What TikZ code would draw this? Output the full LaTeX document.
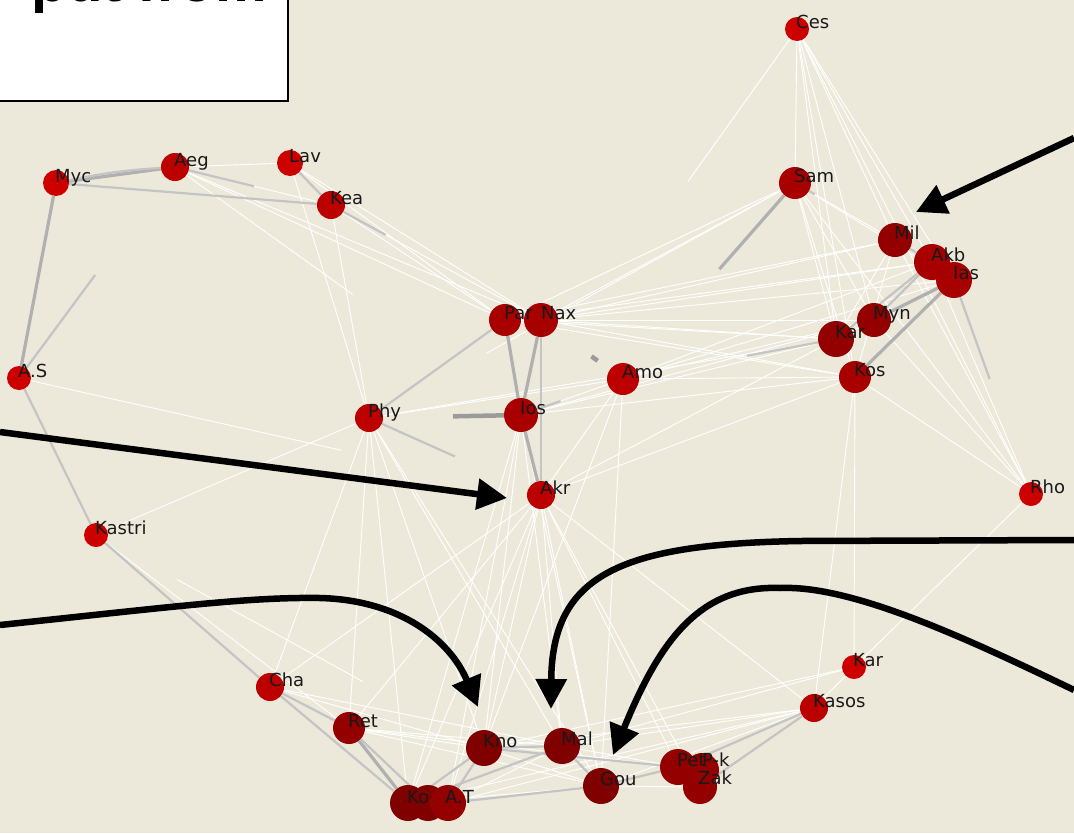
\documentclass[tikz,border=0pt]{standalone}
\usepackage{fontspec}
\setmainfont{DejaVu Sans}
\newfontfamily\titlefont{Liberation Sans}
\usetikzlibrary{arrows.meta}
\pgfdeclarelayer{edgelayer}
\pgfsetlayers{edgelayer,main}
\definecolor{bgc}{RGB}{236,233,219}
\definecolor{rA}{RGB}{205,0,0}
\definecolor{rB}{RGB}{188,0,0}
\definecolor{rC}{RGB}{168,0,0}
\definecolor{rD}{RGB}{148,0,0}
\definecolor{rE}{RGB}{128,0,0}
\definecolor{gA}{RGB}{196,196,196}
\definecolor{gB}{RGB}{176,176,176}
\definecolor{gC}{RGB}{155,155,155}
\newcommand\isle[5]{\node[isl,minimum size=#3pt,fill=#4] (#1) at (#2) {};\node[lab] (#1-l) at (#2) {#5};}
\begin{document}
\begin{tikzpicture}[x=1pt,y=-1pt,
  isl/.style={circle,draw=none,inner sep=0pt},
  lab/.style={anchor=base west,inner sep=0pt,xshift=-1pt,yshift=1pt,font=\fontsize{18}{18}\selectfont,text=black!90},
  we/.style={draw=white,line width=0.9pt},
  ge/.style={draw=gA,line width=2.2pt},
  gt/.style={draw=gB,line width=3.2pt},
  gd/.style={draw=gC,line width=4.5pt},
  bigarrow/.style={draw=black,line width=6.5pt,-{Triangle[length=30pt,width=30pt]}}]
\useasboundingbox (0,0) rectangle (1074,833);
\clip (0,0) rectangle (1074,833);
% islands
\isle{ces}{797,29}{24}{rA}{Ces}
\isle{sam}{795,183}{32}{rC}{Sam}
\isle{mil}{895,240}{34}{rD}{Mil}
\isle{akb}{932,262}{36}{rC}{Akb}
\isle{ias}{954,280}{36}{rC}{Ias}
\isle{myn}{874,320}{34}{rD}{Myn}
\isle{kare}{836,339}{36}{rD}{Kar}
\isle{kos}{855,377}{32}{rC}{Kos}
\isle{rho}{1031,494}{24}{rA}{Rho}
\isle{myc}{56,183}{26}{rA}{Myc}
\isle{aeg}{175,167}{28}{rB}{Aeg}
\isle{lav}{290,163}{26}{rA}{Lav}
\isle{kea}{331,205}{28}{rB}{Kea}
\isle{as}{19,378}{24}{rA}{A.S}
\isle{par}{505,320}{32}{rC}{}
\isle{nax}{541,320}{34}{rC}{}
\node[lab] (par-l2) at (505,320) {Par};
\node[lab] (nax-l2) at (542,320) {Nax};
\isle{amo}{623,379}{32}{rB}{Amo}
\isle{phy}{369,418}{28}{rB}{Phy}
\isle{ios}{521,415}{34}{rC}{Ios}
\isle{akr}{541,495}{28}{rB}{Akr}
\isle{kastri}{96,535}{24}{rA}{Kastri}
\isle{cha}{270,687}{28}{rB}{Cha}
\isle{ret}{349,728}{32}{rD}{Ret}
\isle{kno}{484,748}{36}{rE}{Kno}
\isle{mal}{562,746}{36}{rE}{Mal}
\isle{gou}{601,786}{36}{rE}{Gou}
\isle{zak}{700,787}{34}{rD}{}
\isle{pet}{678,767}{36}{rD}{}
\isle{pk}{702,770}{34}{rD}{}
\node[lab] (pet-l2) at (678,767) {Pet};
\node[lab] (pk-l2) at (703,767) {P-k};
\node[lab] (zak-l2) at (699,785) {Zak};
\isle{kom}{408,803}{36}{rE}{}
\isle{ko2}{428,803}{36}{rE}{}
\isle{at}{448,803}{36}{rD}{}
\node[lab] (kom-l2) at (408,804) {Ko};
\node[lab] (at-l2) at (446,804) {A.T};
\isle{kars}{854,667}{24}{rA}{Kar}
\isle{kasos}{814,708}{28}{rB}{Kasos}
% edges
\begin{pgfonlayer}{edgelayer}
\fill[bgc] (0,0) rectangle (1074,833);
% white edges
\foreach \a/\b in {ces/sam,ces/mil,ces/akb,ces/ias,ces/myn,ces/kare,ces/kos,ces/rho,
  sam/nax,sam/par,sam/kare,sam/kos,sam/myn,sam/ias,sam/akb,sam/rho,
  mil/nax,mil/kare,mil/kos,mil/rho,mil/par,
  akb/nax,akb/par,akb/kare,akb/amo,akb/rho,
  ias/nax,ias/kare,ias/kos,ias/amo,
  myn/nax,myn/par,myn/amo,myn/ios,myn/rho,
  kare/nax,kare/par,kare/ios,kare/akr,kare/phy,
  kos/nax,kos/par,kos/amo,kos/ios,kos/akr,kos/kars,kos/kasos,kos/rho,
  nax/par,nax/kea,nax/aeg,nax/lav,nax/akr,
  par/kea,par/aeg,par/lav,
  amo/ios,amo/akr,amo/phy,amo/gou,amo/kno,
  phy/lav,phy/kea,phy/cha,phy/ret,phy/kno,phy/mal,phy/gou,phy/kastri,phy/kom,
  akr/kno,akr/mal,akr/gou,akr/pet,akr/zak,akr/kom,akr/at,akr/ret,akr/cha,akr/kasos,
  ios/kno,ios/mal,ios/gou,ios/kom,ios/at,
  kastri/ret,cha/ret,cha/kno,cha/mal,
  ret/kno,ret/mal,ret/gou,ret/pet,
  kno/mal,kno/gou,kno/pet,kno/kasos,kno/kars,
  mal/gou,mal/pet,mal/kasos,mal/kars,mal/at,
  gou/pet,gou/zak,gou/kasos,gou/kom,
  kasos/kars,kasos/kom,kasos/at,kars/rho,
  lav/aeg,lav/kea,aeg/kea}
  \draw[we] (\a) -- (\b);
\draw[we,shorten >=270pt] (ces) -- (ios);
\draw[we,shorten >=190pt] (aeg) -- (ios);
\draw[we,shorten >=190pt] (as) -- (akr);
\draw[we,shorten >=120pt] (sam) -- (phy);
\draw[we,shorten <=80pt,shorten >=120pt] (kastri) -- (kno);
% gray edges
\draw[gt] (myc) -- (aeg);
\draw[ge] (myc) to[bend left=4] (aeg);
\draw[ge] (myc) -- (kea);
\draw[ge,shorten >=65pt] (aeg) -- (kea);
\draw[gt] (myc) -- (as);
\draw[ge,shorten >=120pt] (as) -- (aeg);
\draw[ge] (as) -- (kastri);
\draw[ge] (kastri) -- (cha);
\draw[ge] (cha) -- (kom);
\draw[ge] (cha) -- (ret);
\draw[gt] (ret) -- (kom);
\draw[ge] (ret) -- (ko2);
\draw[ge] (lav) -- (kea);
\draw[ge,shorten >=160pt] (kea) -- (nax);
\draw[gt] (par) -- (ios);
\draw[gt] (nax) -- (ios);
\draw[ge] (nax) -- (akr);
\draw[gt] (ios) -- (akr);
\draw[gd,shorten <=45pt,shorten >=15pt] (nax) -- (amo);
\draw[gd,shorten <=70pt] (phy) -- (ios);
\draw[ge] (phy) -- (par);
\draw[ge,shorten >=80pt] (phy) -- (akr);
\draw[ge,shorten >=50pt] (ios) -- (amo);
\draw[gt,shorten <=130pt] (amo) -- (sam);
\draw[ge,shorten >=75pt] (sam) -- (mil);
\draw[ge] (mil) -- (akb);
\draw[gt] (myn) -- (ias);
\draw[gt] (kos) -- (ias);
\draw[ge] (myn) -- (akb);
\draw[ge] (kare) -- (akb);
\draw[ge,shorten >=110pt] (ias) -- (rho);
\draw[ge,shorten <=110pt] (amo) -- (kare);
\draw[ge] (kno) -- (kom);
\draw[ge] (kno) -- (at);
\draw[ge] (kno) -- (mal);
\draw[ge] (mal) -- (gou);
\draw[ge] (gou) -- (pet);
\draw[ge] (at) -- (gou);
\draw[ge] (kom) -- (mal);
\draw[ge] (pet) -- (kasos);
\draw[ge] (zak) -- (kasos);
\draw[ge] (kno) -- (pet);
\end{pgfonlayer}
% title box
\node[draw=black,line width=2pt,fill=white,minimum width=300pt,minimum height=110pt,anchor=south east,inner sep=0pt] (box) at (289,102) {};
\node[anchor=base east,inner sep=0pt,font=\titlefont\bfseries\fontsize{58}{58}\selectfont] (title) at (267,1) {put from};
% arrows
\coordinate (a1s) at (1074,138);
\coordinate (a1e) at (916,212);
\draw[bigarrow] (a1s) -- (a1e);
\coordinate (a2s) at (0,432);
\coordinate (a2e) at (507,498);
\draw[bigarrow] (a2s) -- (a2e);
\coordinate (a3s) at (0,625);
\coordinate (a3m) at (320,598);
\coordinate (a3e) at (478,707);
\draw[bigarrow] (a3s) .. controls (180,606) and (250,597) .. (a3m) .. controls (400,600) and (450,640) .. (a3e);
\coordinate (a4s) at (1074,540);
\coordinate (a4m) at (800,541);
\coordinate (a4e) at (551,709);
\draw[bigarrow] (a4s) -- (a4m) .. controls (620,544) and (552,575) .. (a4e);
\coordinate (a5s) at (1074,690);
\coordinate (a5m) at (780,588);
\coordinate (a5e) at (613,755);
\draw[bigarrow] (a5s) .. controls (960,635) and (850,585) .. (a5m) .. controls (700,585) and (660,640) .. (a5e);
\end{tikzpicture}
\end{document}
